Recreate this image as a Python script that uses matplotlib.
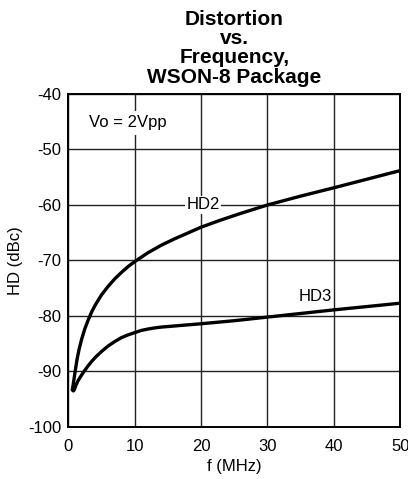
import numpy as np
import matplotlib
matplotlib.use("Agg")
import matplotlib.pyplot as plt

plt.rcParams["font.family"] = ["Liberation Sans", "DejaVu Sans"]
plt.rcParams["axes.unicode_minus"] = False

# ── Data (f in MHz, distortion in dBc) ───────────────────────────────────────
f_hd2 = [0.6, 0.7, 0.8, 0.9, 1.05, 1.3, 1.6, 2.0, 2.5, 3.0, 3.5, 4.0, 4.5,
         5.0, 6.0, 7.0, 8.0, 9.0, 10, 12, 14, 16, 18, 20, 23, 26, 30, 35,
         40, 45, 50]
hd2 = [-93.3, -92.6, -91.8, -91.0, -89.8, -87.9, -86.1, -84.2, -82.25,
       -80.7, -79.3, -78.15, -77.15, -76.2, -74.65, -73.3, -72.15, -71.1,
       -70.2, -68.6, -67.25, -66.1, -65.05, -64.0, -62.7, -61.5, -60.0,
       -58.4, -56.9, -55.35, -53.8]

f_hd3 = [0.6, 0.75, 0.9, 1.1, 1.4, 1.8, 2.3, 2.9, 3.5, 4.2, 5.0, 6.0, 7.0,
         8.0, 9.0, 10, 11, 12, 13, 14, 16, 18, 20, 25, 30, 35, 40, 45, 50]
hd3 = [-93.3, -93.5, -93.3, -92.6, -91.8, -91.0, -90.1, -89.1, -88.2,
       -87.3, -86.4, -85.4, -84.6, -83.9, -83.4, -83.0, -82.6, -82.35,
       -82.15, -82.0, -81.8, -81.6, -81.4, -80.85, -80.2, -79.55, -78.9,
       -78.3, -77.7]

x_ticks = [0, 10, 20, 30, 40, 50]
y_ticks = [-100, -90, -80, -70, -60, -50, -40]

# ── Figure ───────────────────────────────────────────────────────────────────
fig = plt.figure(figsize=(4.08, 4.79), dpi=100)
ax = fig.add_axes([0.1675, 0.1086, 0.8135, 0.6952])

for f, hd in [(f_hd2, hd2), (f_hd3, hd3)]:
    ax.plot(f, hd, color="black", lw=2.4, solid_capstyle="round",
            solid_joinstyle="round", zorder=3)

ax.set_xlim(0, 50)
ax.set_ylim(-100, -40)
ax.set_xticks(x_ticks)
ax.set_yticks(y_ticks)
ax.tick_params(length=0, labelsize=12, colors="black")
ax.tick_params(axis="x", pad=9)
ax.tick_params(axis="y", pad=5)
ax.grid(True, color="#222222", lw=1.0)
ax.set_axisbelow(True)
for s in ax.spines.values():
    s.set_linewidth(1.4)
    s.set_color("black")

ax.set_xlabel("f (MHz)", fontsize=12, labelpad=3)
ax.set_ylabel("HD (dBc)", fontsize=12, labelpad=4)

box = dict(facecolor="white", edgecolor="none", pad=1.0)
ax.text(9, -45.2, "Vo = 2Vpp", fontsize=12, ha="center", va="center",
        bbox=dict(facecolor="white", edgecolor="none", pad=3.0), zorder=4)
ax.text(20.3, -60, "HD2", fontsize=12, ha="center", va="center", bbox=box, zorder=4)
ax.text(37.2, -76.5, "HD3", fontsize=12, ha="center", va="center", bbox=box, zorder=4)

ax.set_title("Distortion\nvs.\nFrequency,\nWSON-8 Package", fontsize=15,
             fontweight="bold", linespacing=1.03, pad=8)

fig.savefig("out.png", dpi=100)
